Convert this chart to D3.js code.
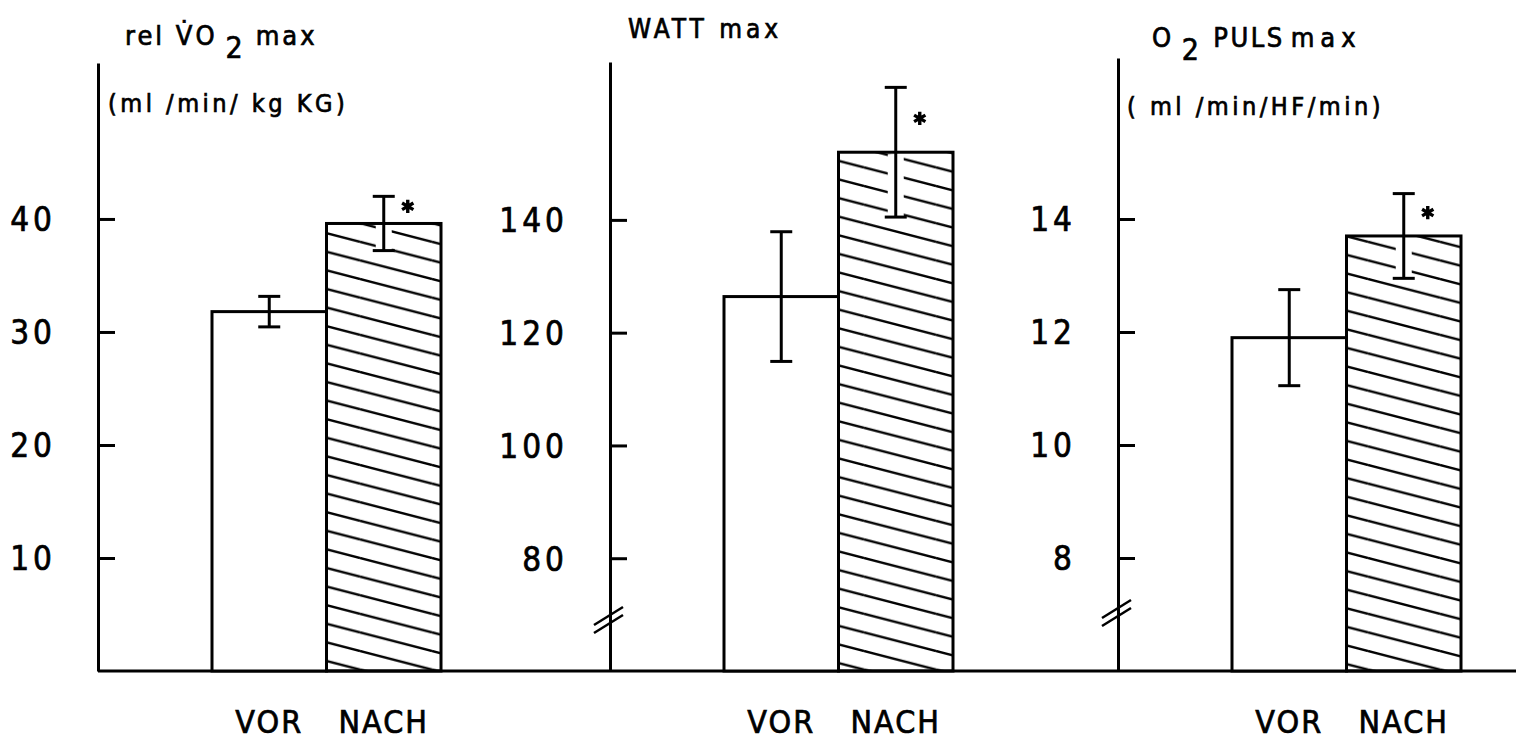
<!DOCTYPE html>
<html>
<head>
<meta charset="utf-8">
<script src="https://cdn.jsdelivr.net/npm/d3@7"></script>
<style>
  body { margin: 0; background: #fff; }
  text { font-family: "DejaVu Sans Condensed", "DejaVu Sans", sans-serif; fill: #000; stroke: #000; stroke-width: 0.7px; }
</style>
</head>
<body>
<div id="container"></div>
<script>
/* DATA */
const groups = ["VOR", "NACH"];
const vo2Means = [31.8, 39.6];
const vo2Errors = [1.35, 2.4];
const vo2Ticks = [10, 20, 30, 40];
const wattMeans = [126.4, 152.0];
const wattErrors = [11.5, 11.5];
const wattTicks = [80, 100, 120, 140];
const pulsMeans = [11.9, 13.7];
const pulsErrors = [0.85, 0.75];
const pulsTicks = [8, 10, 12, 14];
const significant = [false, true];

/* LAYOUT */
const width = 1516, height = 741;
const baseY = 671;
const panels = [
  {means: vo2Means, errors: vo2Errors, ticks: vo2Ticks, domain: [0, 53.8], axisX: 98, top: 63, brk: null, starDy: 10},
  {means: wattMeans, errors: wattErrors, ticks: wattTicks, domain: [60, 168], axisX: 610, top: 62, brk: 620, starDy: 31},
  {means: pulsMeans, errors: pulsErrors, ticks: pulsTicks, domain: [6, 16.85], axisX: 1118, top: 58, brk: 613, starDy: 19}
];

const svg = d3.select("#container").append("svg")
    .attr("width", width)
    .attr("height", height)
    .style("display", "block");

// hatching for the NACH bars
const hatchH = 18.6, hatchW = 72;
svg.append("defs").append("pattern")
    .attr("id", "hatch")
    .attr("patternUnits", "userSpaceOnUse")
    .attr("width", hatchW)
    .attr("height", hatchH)
  .selectAll("line")
  .data([-1, 0, 1])
  .join("line")
    .attr("x1", 0).attr("y1", d => d * hatchH)
    .attr("x2", hatchW).attr("y2", d => d * hatchH + hatchH)
    .attr("stroke", "#000")
    .attr("stroke-width", 2.4);

// long baseline under all three panels
svg.append("line")
    .attr("x1", panels[0].axisX).attr("x2", width)
    .attr("y1", baseY).attr("y2", baseY)
    .attr("stroke", "#000").attr("stroke-width", 3);

panels.forEach(p => {
  const g = svg.append("g");
  const y = d3.scaleLinear().domain(p.domain).range([baseY, p.top]);
  const x = d3.scaleBand().domain(groups).range([p.axisX + 114, p.axisX + 343]).padding(0);

  const axis = g.append("g")
      .attr("transform", `translate(${p.axisX},0)`)
      .call(d3.axisLeft(y).tickValues(p.ticks).tickSizeInner(-17).tickSizeOuter(0).tickPadding(42));
  axis.attr("font-family", null).attr("font-size", null);
  axis.select(".domain").attr("stroke-width", 3);
  axis.selectAll(".tick line").attr("stroke-width", 3);
  axis.selectAll(".tick text")
      .style("font-size", "33px")
      .style("letter-spacing", "4px")
      .attr("dy", "0.36em");

  // axis break marks
  if (p.brk) {
    g.selectAll("line.brk")
      .data([-4, 4])
      .join("line")
        .attr("class", "brk")
        .attr("x1", p.axisX - 16).attr("y1", d => p.brk + d + 9)
        .attr("x2", p.axisX + 13).attr("y2", d => p.brk + d - 9)
        .attr("stroke", "#000").attr("stroke-width", 2.5);
  }

  const data = groups.map((k, i) => ({key: k, mean: p.means[i], err: p.errors[i], sig: significant[i]}));

  // bar fills
  g.selectAll("rect.fill")
    .data(data)
    .join("rect")
      .attr("class", "fill")
      .attr("x", d => x(d.key))
      .attr("y", d => y(d.mean))
      .attr("width", x.bandwidth())
      .attr("height", d => baseY - y(d.mean))
      .attr("fill", (d, i) => i === 1 ? "url(#hatch)" : "#fff");

  // white gap round the error bar
  g.selectAll("line.halo")
    .data(data)
    .join("line")
      .attr("class", "halo")
      .attr("x1", d => x(d.key) + x.bandwidth() / 2)
      .attr("x2", d => x(d.key) + x.bandwidth() / 2)
      .attr("y1", d => Math.max(y(d.mean) + 2, y(d.mean + d.err)))
      .attr("y2", d => y(d.mean - d.err) + 4)
      .attr("stroke", "#fff").attr("stroke-width", 16);

  // bar outlines
  g.selectAll("rect.bar")
    .data(data)
    .join("rect")
      .attr("class", "bar")
      .attr("x", d => x(d.key))
      .attr("y", d => y(d.mean))
      .attr("width", x.bandwidth())
      .attr("height", d => baseY - y(d.mean))
      .attr("fill", "none")
      .attr("stroke", "#000")
      .attr("stroke-width", 3);

  // error bars
  const eb = g.selectAll("g.err")
    .data(data)
    .join("g")
      .attr("class", "err")
      .attr("transform", d => `translate(${x(d.key) + x.bandwidth() / 2},0)`);
  eb.append("line")
      .attr("y1", d => y(d.mean + d.err)).attr("y2", d => y(d.mean - d.err))
      .attr("stroke", "#000").attr("stroke-width", 3);
  eb.selectAll("line.cap")
    .data(d => [d.mean + d.err, d.mean - d.err])
    .join("line")
      .attr("class", "cap")
      .attr("x1", -11).attr("x2", 11)
      .attr("y1", v => y(v)).attr("y2", v => y(v))
      .attr("stroke", "#000").attr("stroke-width", 3);

  // significance star
  g.selectAll("path.star")
    .data(data.filter(d => d.sig))
    .join("path")
      .attr("class", "star")
      .attr("d", d3.symbol(d3.symbolAsterisk, 120))
      .attr("transform", d => `translate(${x(d.key) + x.bandwidth() / 2 + 24},${y(d.mean + d.err) + p.starDy})`)
      .attr("fill", "none").attr("stroke", "#000").attr("stroke-width", 3.4);

  // group labels
  g.selectAll("text.grp")
    .data(groups)
    .join("text")
      .attr("class", "grp")
      .attr("x", d => x(d) + x.bandwidth() / 2)
      .attr("y", 733)
      .attr("text-anchor", "middle")
      .style("font-size", "32px")
      .style("letter-spacing", "2px")
      .text(d => d);
});

/* TITLES */
const t1 = svg.append("text")
    .attr("x", 125).attr("y", 45)
    .style("font-size", "27px")
    .style("letter-spacing", "3px");
t1.append("tspan").text("rel V\u0307O");
t1.append("tspan").attr("dy", 13).attr("dx", 8).style("font-size", "30px").text("2");
t1.append("tspan").attr("dy", -13).attr("dx", 10).text("max");

svg.append("text")
    .attr("x", 108).attr("y", 112)
    .style("font-size", "25px")
    .style("letter-spacing", "3.5px")
    .text("(ml /min/ kg KG)");

svg.append("text")
    .attr("x", 628).attr("y", 38)
    .style("font-size", "26px")
    .style("letter-spacing", "4px")
    .text("WATT max");

const t3 = svg.append("text")
    .attr("x", 1152).attr("y", 47)
    .style("font-size", "27px")
    .style("letter-spacing", "2.5px");
t3.append("tspan").text("O");
t3.append("tspan").attr("dy", 13).attr("dx", 8).style("font-size", "30px").text("2");
t3.append("tspan").attr("dy", -13).attr("dx", 12).text("PULS");
t3.append("tspan").attr("dx", 6).style("letter-spacing", "6px").text("max");

svg.append("text")
    .attr("x", 1127).attr("y", 115)
    .style("font-size", "25px")
    .style("letter-spacing", "3.5px")
    .text("( ml /min/HF/min)");
</script>
</body>
</html>
